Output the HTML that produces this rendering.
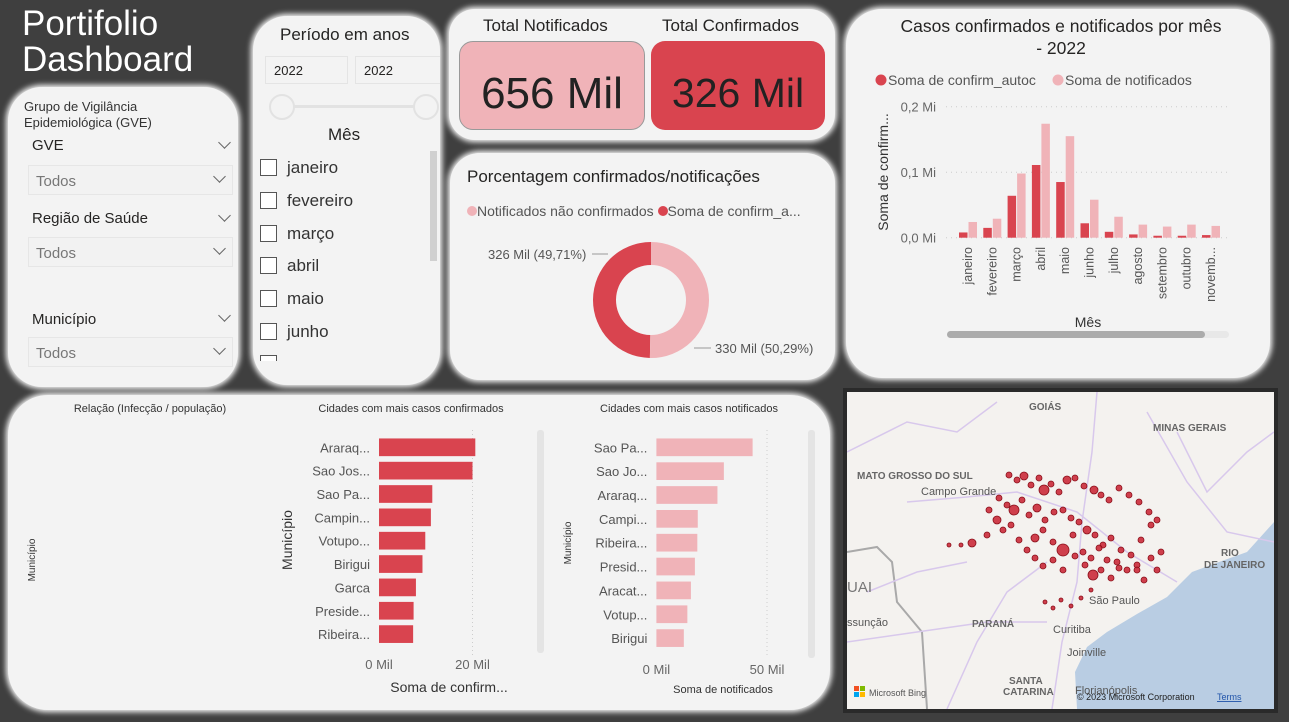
<!DOCTYPE html>
<html><head><meta charset="utf-8">
<style>
*{box-sizing:border-box;margin:0;padding:0}
body{width:1289px;height:722px;background:#3f3f3f;position:relative;overflow:hidden;font-family:"Liberation Sans",sans-serif;color:#252423}
.panel{position:absolute;background:#f3f3f3;border-radius:34px;box-shadow:0 0 6px 2px #ffffff}
.abs{position:absolute;white-space:nowrap}
.dd{position:absolute;left:20px;width:205px;height:30px;border:1px solid #e6e6e6;background:#f2f2f2;font-size:15px;color:#777;padding:7px 7px}
.chev{position:absolute;width:9px;height:9px;border-right:1.5px solid #666;border-bottom:1.5px solid #666;transform:rotate(45deg)}
.cb{position:absolute;left:7px;width:17px;height:17px;border:1.5px solid #555;background:#fff}
.mo{position:absolute;left:34px;font-size:17px;color:#333}
</style></head><body>
<div class="abs" style="left:22px;top:6px;color:#fff;font-size:35px;line-height:36px">Portifolio<br>Dashboard</div>

<div class="panel" style="left:8px;top:87px;width:230px;height:300px">
 <div class="abs" style="left:16px;top:12px;font-size:13px;line-height:16px;color:#333">Grupo de Vigilância<br>Epidemiológica (GVE)</div>
 <div class="abs" style="left:24px;top:50px;font-size:15px">GVE</div><div class="chev" style="left:212px;top:51px"></div>
 <div class="dd" style="top:78px">Todos<div class="chev" style="left:186px;top:6px"></div></div>
 <div class="abs" style="left:24px;top:123px;font-size:15px">Região de Saúde</div><div class="chev" style="left:212px;top:124px"></div>
 <div class="dd" style="top:150px">Todos<div class="chev" style="left:186px;top:6px"></div></div>
 <div class="abs" style="left:24px;top:224px;font-size:15px">Município</div><div class="chev" style="left:212px;top:224px"></div>
 <div class="dd" style="top:250px">Todos<div class="chev" style="left:186px;top:6px"></div></div>
</div>

<div class="panel" style="left:253px;top:16px;width:187px;height:369px;overflow:hidden">
 <div class="abs" style="left:27px;top:9px;font-size:17px">Período em anos</div>
 <div class="abs" style="left:12px;top:40px;width:83px;height:28px;border:1px solid #e4e4e4;font-size:13px;padding:6px 8px">2022</div>
 <div class="abs" style="left:102px;top:40px;width:90px;height:28px;border:1px solid #e4e4e4;font-size:13px;padding:6px 8px">2022</div>
 <div class="abs" style="left:30px;top:89px;width:145px;height:3px;background:#e2e2e2"></div>
 <div class="abs" style="left:16px;top:78px;width:26px;height:26px;border-radius:50%;border:2px solid #e2e2e2;background:#f3f3f3"></div>
 <div class="abs" style="left:160px;top:78px;width:26px;height:26px;border-radius:50%;border:2px solid #e2e2e2;background:#f3f3f3"></div>
 <div class="abs" style="left:75px;top:109px;font-size:17px">Mês</div>
 <div class="abs" style="left:177px;top:135px;width:7px;height:110px;background:#d0d0d0"></div>
 <div class="cb" style="top:143px"></div><div class="mo" style="top:142px">janeiro</div>
 <div class="cb" style="top:176px"></div><div class="mo" style="top:175px">fevereiro</div>
 <div class="cb" style="top:209px"></div><div class="mo" style="top:208px">março</div>
 <div class="cb" style="top:241px"></div><div class="mo" style="top:240px">abril</div>
 <div class="cb" style="top:274px"></div><div class="mo" style="top:273px">maio</div>
 <div class="cb" style="top:307px"></div><div class="mo" style="top:306px">junho</div>
 <div class="cb" style="top:339px;height:6px;border-bottom:none"></div>
</div>

<div class="panel" style="left:449px;top:9px;width:386px;height:131px;border-radius:26px">
 <div class="abs" style="left:34px;top:7px;font-size:17px">Total Notificados</div>
 <div class="abs" style="left:213px;top:7px;font-size:17px">Total Confirmados</div>
 <div class="abs" style="left:10px;top:32px;width:186px;height:89px;background:#f0b3b8;border-radius:14px;border:1px solid #999;font-size:44px;text-align:center;line-height:104px;color:#222">656 Mil</div>
 <div class="abs" style="left:202px;top:32px;width:174px;height:89px;background:#d9444f;border-radius:14px;font-size:41px;text-align:center;line-height:104px;color:#222">326 Mil</div>
</div>

<div class="panel" style="left:450px;top:153px;width:385px;height:227px;border-radius:30px">
 <div class="abs" style="left:17px;top:14px;font-size:17px">Porcentagem confirmados/notificações</div>
 <div class="abs" style="left:17px;top:50px;font-size:14px;color:#555"><span style="display:inline-block;width:10px;height:10px;border-radius:50%;background:#f0b3b8"></span>Notificados não confirmados <span style="display:inline-block;width:10px;height:10px;border-radius:50%;background:#d9444f"></span>Soma de confirm_a...</div>
 <svg class="abs" style="left:0;top:0" width="385" height="227">
  <g id="donut"></g>
  <text x="38" y="106" font-size="13" fill="#555">326 Mil (49,71%)</text>
  <line x1="142" y1="101" x2="158" y2="101" stroke="#999"/>
  <text x="265" y="200" font-size="13" fill="#555">330 Mil (50,29%)</text>
  <line x1="244" y1="195" x2="261" y2="195" stroke="#999"/>
 </svg>
</div>

<div class="panel" style="left:846px;top:9px;width:424px;height:369px;border-radius:36px">
 <div class="abs" style="left:20px;top:6px;font-size:17.5px;line-height:22px;text-align:center;width:390px">Casos confirmados e notificados por mês<br>- 2022</div>
</div>
<svg class="abs" style="left:0;top:0" width="1289" height="722" id="monthly">
 <circle cx="881" cy="80" r="5.5" fill="#d9444f"/><text x="888" y="85" font-size="14" fill="#555">Soma de confirm_autoc</text>
 <circle cx="1058" cy="80" r="5.5" fill="#f0b3b8"/><text x="1065" y="85" font-size="14" fill="#555">Soma de notificados</text>
 <text transform="translate(888,172) rotate(-90)" font-size="14" text-anchor="middle" fill="#333">Soma de confirm...</text>
 <text x="1088" y="327" font-size="14" text-anchor="middle" fill="#333">Mês</text>
 <rect x="947" y="331" width="282" height="7" rx="3.5" fill="#e8e8e8"/>
 <rect x="947" y="331" width="258" height="7" rx="3.5" fill="#ababab"/>
 <g id="mgrid"></g><g id="mbars"></g><g id="mlabels"></g>
</svg>

<div class="panel" style="left:8px;top:395px;width:822px;height:315px;border-radius:40px"></div>
<svg class="abs" style="left:0;top:0" width="1289" height="722" id="bars">
 <text x="150" y="412" font-size="11" text-anchor="middle" fill="#333">Relação (Infecção / população)</text>
 <text transform="translate(35,560) rotate(-90)" font-size="10" text-anchor="middle" fill="#333">Município</text>
 <text x="411" y="412" font-size="11" text-anchor="middle" fill="#333">Cidades com mais casos confirmados</text>
 <text x="689" y="412" font-size="11" text-anchor="middle" fill="#333">Cidades com mais casos notificados</text>
 <text transform="translate(292,540) rotate(-90)" font-size="14" text-anchor="middle" fill="#333">Município</text>
 <text transform="translate(571,543) rotate(-90)" font-size="10" text-anchor="middle" fill="#333">Município</text>
 <text x="449" y="692" font-size="14" text-anchor="middle" fill="#333">Soma de confirm...</text>
 <text x="723" y="693" font-size="11" text-anchor="middle" fill="#333">Soma de notificados</text>
 <rect x="537" y="430" width="7" height="223" rx="3" fill="#e4e4e4"/>
 <rect x="808" y="430" width="7" height="228" rx="3" fill="#e4e4e4"/>
 <g id="cbars"></g><g id="nbars"></g>
</svg>

<div class="abs" style="left:843px;top:388px;width:435px;height:325px;background:#2a2a2a;padding:4px">
<svg width="427" height="317" id="map" style="display:block">
 <rect width="427" height="317" fill="#f4f2ef"/>
 <path d="M230,317 L228,280 L240,255 L260,240 L290,222 L320,205 L345,180 L372,170 L400,160 L427,130 L427,317 Z" fill="#b9cde3"/>
 <path d="M0,160 L30,155 L45,170 L50,210 L75,240 L80,317" fill="none" stroke="#a9a9a9" stroke-width="2"/>
 <g fill="none" stroke="#d8c8ec" stroke-width="1.5">
  <path d="M0,60 L60,30 L110,40 L150,10"/><path d="M60,110 L120,105 L170,100 L230,120 L280,160 L330,190"/>
  <path d="M250,0 L245,60 L235,130 L230,190 L215,250 L205,317"/><path d="M100,317 L130,250 L160,200 L200,170"/>
  <path d="M300,20 L340,90 L380,140 L427,150"/><path d="M0,250 L70,240 L140,230 L200,230"/>
  <path d="M330,40 L360,100 L400,60 L427,40"/><path d="M20,200 L70,180 L120,170"/>
 </g>
 <g font-size="10" fill="#666" font-weight="bold">
  <text x="182" y="18">GOIÁS</text><text x="306" y="39">MINAS GERAIS</text><text x="10" y="87">MATO GROSSO DO SUL</text>
  <text x="374" y="164">RIO</text><text x="357" y="176">DE JANEIRO</text><text x="125" y="235">PARANÁ</text>
  <text x="162" y="292">SANTA</text><text x="156" y="303">CATARINA</text>
 </g>
 <g font-size="11" fill="#555">
  <text x="74" y="103">Campo Grande</text><text x="242" y="212">São Paulo</text><text x="206" y="241">Curitiba</text>
  <text x="220" y="264">Joinville</text><text x="228" y="302">Florianópolis</text><text x="0" y="234">ssunção</text>
  <text x="0" y="200" font-size="15" fill="#777">UAI</text>
 </g>
 <g id="dots" transform="translate(-8,-12)"></g>
 <rect x="7" y="294" width="5" height="5" fill="#f25022"/><rect x="13" y="294" width="5" height="5" fill="#7fba00"/>
 <rect x="7" y="300" width="5" height="5" fill="#00a4ef"/><rect x="13" y="300" width="5" height="5" fill="#ffb900"/>
 <text x="22" y="304" font-size="9" fill="#555">Microsoft Bing</text>
 <text x="230" y="308" font-size="9" fill="#222">© 2023 Microsoft Corporation</text>
 <text x="370" y="308" font-size="9" fill="#2255aa" text-decoration="underline">Terms</text>
</svg></div>

<script>
const NS="http://www.w3.org/2000/svg";
function mk(p,t,a){const e=document.createElementNS(NS,t);for(const k in a)e.setAttribute(k,a[k]);p.appendChild(e);return e;}

const donutLabels=["Soma de confirm_autoc","Notificados não confirmados"];
const donutValues=[326,330];
const donutColors=["#d9444f","#f0b3b8"];
(function(){
 const g=document.getElementById('donut');const cx=201,cy=147,R=58,r=35;
 const tot=donutValues.reduce((a,b)=>a+b,0);
 donutValues.forEach((v,i)=>{
  const sweep=v/tot*2*Math.PI;let s,e;
  if(i===0){s=-sweep;e=0;}else{s=0;e=sweep;}
  const pt=(ang,rad)=>[cx+rad*Math.sin(ang),cy-rad*Math.cos(ang)];
  const [x1,y1]=pt(s,R),[x2,y2]=pt(e,R),[x3,y3]=pt(e,r),[x4,y4]=pt(s,r);
  const lg=sweep>Math.PI?1:0;
  const p=mk(g,'path',{d:`M${x1},${y1} A${R},${R} 0 ${lg} 1 ${x2},${y2} L${x3},${y3} A${r},${r} 0 ${lg} 0 ${x4},${y4} Z`,fill:donutColors[i]});
  
  
 });
})();

const months=["janeiro","fevereiro","março","abril","maio","junho","julho","agosto","setembro","outubro","novemb..."];
const confirmados=[0.008,0.015,0.064,0.111,0.085,0.022,0.009,0.005,0.003,0.003,0.004];
const notificados=[0.024,0.029,0.098,0.174,0.155,0.058,0.032,0.020,0.017,0.020,0.018];
const yTicks=[0,0.1,0.2];
const yTickLabels=["0,0 Mi","0,1 Mi","0,2 Mi"];
(function(){
 const y=v=>237.7-v*655, xc=i=>968+i*24.3;
 const gg=document.getElementById('mgrid'),gb=document.getElementById('mbars'),gl=document.getElementById('mlabels');
 yTicks.forEach((t,i)=>{
  mk(gg,'line',{x1:946,x2:1228,y1:y(t),y2:y(t),stroke:'#ccc','stroke-dasharray':'1 4'});
  const tx=mk(gg,'text',{x:936,y:y(t)+5,'font-size':13,'text-anchor':'end',fill:'#666'});tx.textContent=yTickLabels[i];
 });
 months.forEach((m,i)=>{
  const c=mk(gb,'rect',{x:xc(i)-9,y:y(confirmados[i]),width:8.5,height:237.7-y(confirmados[i]),fill:'#d9444f'});
  
  
  const n=mk(gb,'rect',{x:xc(i)+0.5,y:y(notificados[i]),width:8.5,height:237.7-y(notificados[i]),fill:'#f0b3b8'});
  
  
  const t=mk(gl,'text',{transform:`translate(${xc(i)+4},247) rotate(-90)`,'font-size':12.5,'text-anchor':'end',fill:'#555'});t.textContent=m;
 });
})();

const citiesConf=["Araraq...","Sao Jos...","Sao Pa...","Campin...","Votupo...","Birigui","Garca","Preside...","Ribeira..."];
const valuesConf=[20.6,20.0,11.4,11.1,9.9,9.3,7.9,7.4,7.3];
const ticksConf=[0,20];
const citiesNot=["Sao Pa...","Sao Jo...","Araraq...","Campi...","Ribeira...","Presid...","Aracat...","Votup...","Birigui"];
const valuesNot=[43.5,30.5,27.6,18.7,18.5,17.4,15.6,14.0,12.4];
const ticksNot=[0,50];
function hbars(gid,cats,vals,ticks,x0,scale,y0,step,h,color,fs,tickY,name){
 const g=document.getElementById(gid);
 ticks.forEach(t=>{
  const x=x0+t*scale;
  if(t>0)mk(g,'line',{x1:x,x2:x,y1:430,y2:658,stroke:'#ccc','stroke-dasharray':'1 3'});
  const tx=mk(g,'text',{x:x,y:tickY,'font-size':13,'text-anchor':'middle',fill:'#666'});tx.textContent=t+' Mil';
 });
 cats.forEach((c,i)=>{
  const cy=y0+i*step;
  const r=mk(g,'rect',{x:x0,y:cy-h/2,width:vals[i]*scale,height:h,fill:color});
  
  
  const t=mk(g,'text',{x:x0-9,y:cy+5,'font-size':fs,'text-anchor':'end',fill:'#555'});t.textContent=c;
 });
}
hbars('cbars',citiesConf,valuesConf,ticksConf,379,93.5/20,447.3,23.35,17.7,'#d9444f',13,669,'bar-conf-city');
hbars('nbars',citiesNot,valuesNot,ticksNot,656.4,110.6/50,447.3,23.85,17.7,'#f0b3b8',13,674,'bar-notif-city');

const dotX=[170,178,185,192,200,205,212,220,228,236,245,255,262,270,280,290,300,310,318,160,168,175,183,190,198,206,215,224,232,240,248,256,264,272,282,292,302,312,150,158,164,172,180,188,196,204,214,224,234,244,252,260,268,278,288,298,110,122,133,148,196,204,214,224,236,246,254,262,272,280,298,312,322,206,214,222,232,242,252,305,318];
const dotY=[95,100,96,105,98,110,104,112,100,98,106,110,115,120,108,115,122,132,140,118,125,130,120,135,128,140,132,130,138,142,150,155,165,158,170,175,160,145,130,140,150,145,160,170,158,150,162,170,155,172,178,168,180,182,190,185,165,165,163,155,178,186,180,190,176,185,195,190,198,188,190,178,172,222,228,220,226,218,210,200,190];
const dotR=[3,3,4,3,3,5,3,3,4,3,3,4,3,3,3,3,3,3,3,3,3,5,3,3,4,3,3,3,3,3,4,3,3,3,3,3,3,3,3,4,3,3,3,3,4,3,3,6,3,3,3,3,3,3,3,3,2,2,4,3,3,3,3,3,3,3,5,3,3,3,3,3,3,2,2,2,2,2,2,3,3];
(function(){const g=document.getElementById('dots');
 dotX.forEach((x,i)=>{mk(g,'circle',{cx:x,cy:dotY[i],r:dotR[i],fill:'#c8202f',stroke:'#8a0f1a','stroke-width':0.8,'fill-opacity':0.85});});
})();
</script>
</body></html>
